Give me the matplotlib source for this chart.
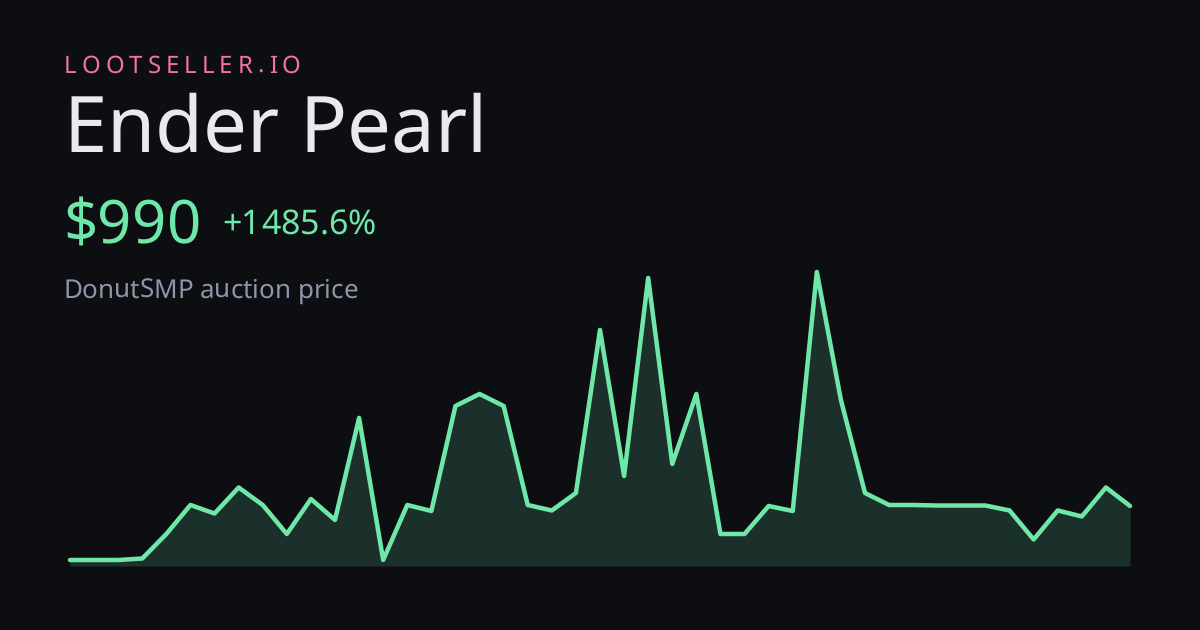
"""Render the Ender Pearl price card."""

import matplotlib
matplotlib.use("Agg")
import matplotlib.pyplot as plt

WIDTH = 1200
HEIGHT = 630

BACKGROUND = "#0c0e12"
GREEN = "#6ee7a8"
PINK = "#f472a6"
TITLE_COLOR = "#e9eaef"
MUTED = "#8f94a8"

BRAND = "LOOTSELLER.IO"
ITEM = "Ender Pearl"
PRICE = "$990"
CHANGE = "+1485.6%"
SUBTITLE = "DonutSMP auction price"

# price history
prices = [
    62, 62, 62, 88, 509, 1007, 861, 1308, 1007, 509, 1110, 750, 2502, 62, 1007,
    904, 2708, 2914, 2708, 1007, 913, 1213, 4014, 1506, 4907, 1712, 2914, 509,
    509, 990, 904, 5010, 2811, 1213, 1007, 1007, 998, 998, 998, 913, 415, 913,
    810, 1308, 990,
]
steps = list(range(len(prices)))


def px(size: float) -> float:
    return size * 72 / 100


def put_text(fig, x, y, text, size, color, spacing=0.0):
    # matplotlib has no letter spacing, so place each glyph from the prefix width
    renderer = fig.canvas.get_renderer()
    for idx, char in enumerate(text):
        probe = fig.text(0, 0, text[: idx + 1], fontsize=px(size), family="Noto Sans")
        whole = probe.get_window_extent(renderer).width
        probe.set_text(text[idx] if text[idx] != " " else "n")
        single = probe.get_window_extent(renderer).width
        probe.remove()
        left = x + whole - single + spacing * idx
        if char != " ":
            fig.text(
                left / WIDTH,
                1 - y / HEIGHT,
                char,
                fontsize=px(size),
                family="Noto Sans",
                color=color,
                va="baseline",
            )


def main() -> int:
    plt.rcParams["text.hinting"] = "no_hinting"
    plt.rcParams["text.hinting_factor"] = 1
    fig = plt.figure(figsize=(WIDTH / 100, HEIGHT / 100), dpi=100, facecolor=BACKGROUND)

    left, right, top, bottom = 70, 1130, 270, 566
    ax = fig.add_axes(
        [left / WIDTH, 1 - bottom / HEIGHT, (right - left) / WIDTH, (bottom - top) / HEIGHT]
    )
    ax.set_facecolor("none")
    ax.set_xlim(0, len(prices) - 1)
    ax.set_ylim(-41, 5044)
    ax.axis("off")
    ax.fill_between(steps, prices, -41, color=GREEN, alpha=0.16, linewidth=0)
    ax.plot(
        steps,
        prices,
        color=GREEN,
        linewidth=px(4.5),
        solid_joinstyle="round",
        solid_capstyle="round",
        clip_on=False,
    )

    put_text(fig, 64, 73, BRAND, 24, PINK, spacing=5.0)
    put_text(fig, 63, 152, ITEM, 78, TITLE_COLOR)
    put_text(fig, 63, 243, PRICE, 60, GREEN)
    put_text(fig, 222, 234, CHANGE, 34, GREEN)
    put_text(fig, 63, 298, SUBTITLE, 26, MUTED)

    fig.savefig("out.png", dpi=100, facecolor=BACKGROUND)
    plt.close(fig)
    return 0


if __name__ == "__main__":
    raise SystemExit(main())
